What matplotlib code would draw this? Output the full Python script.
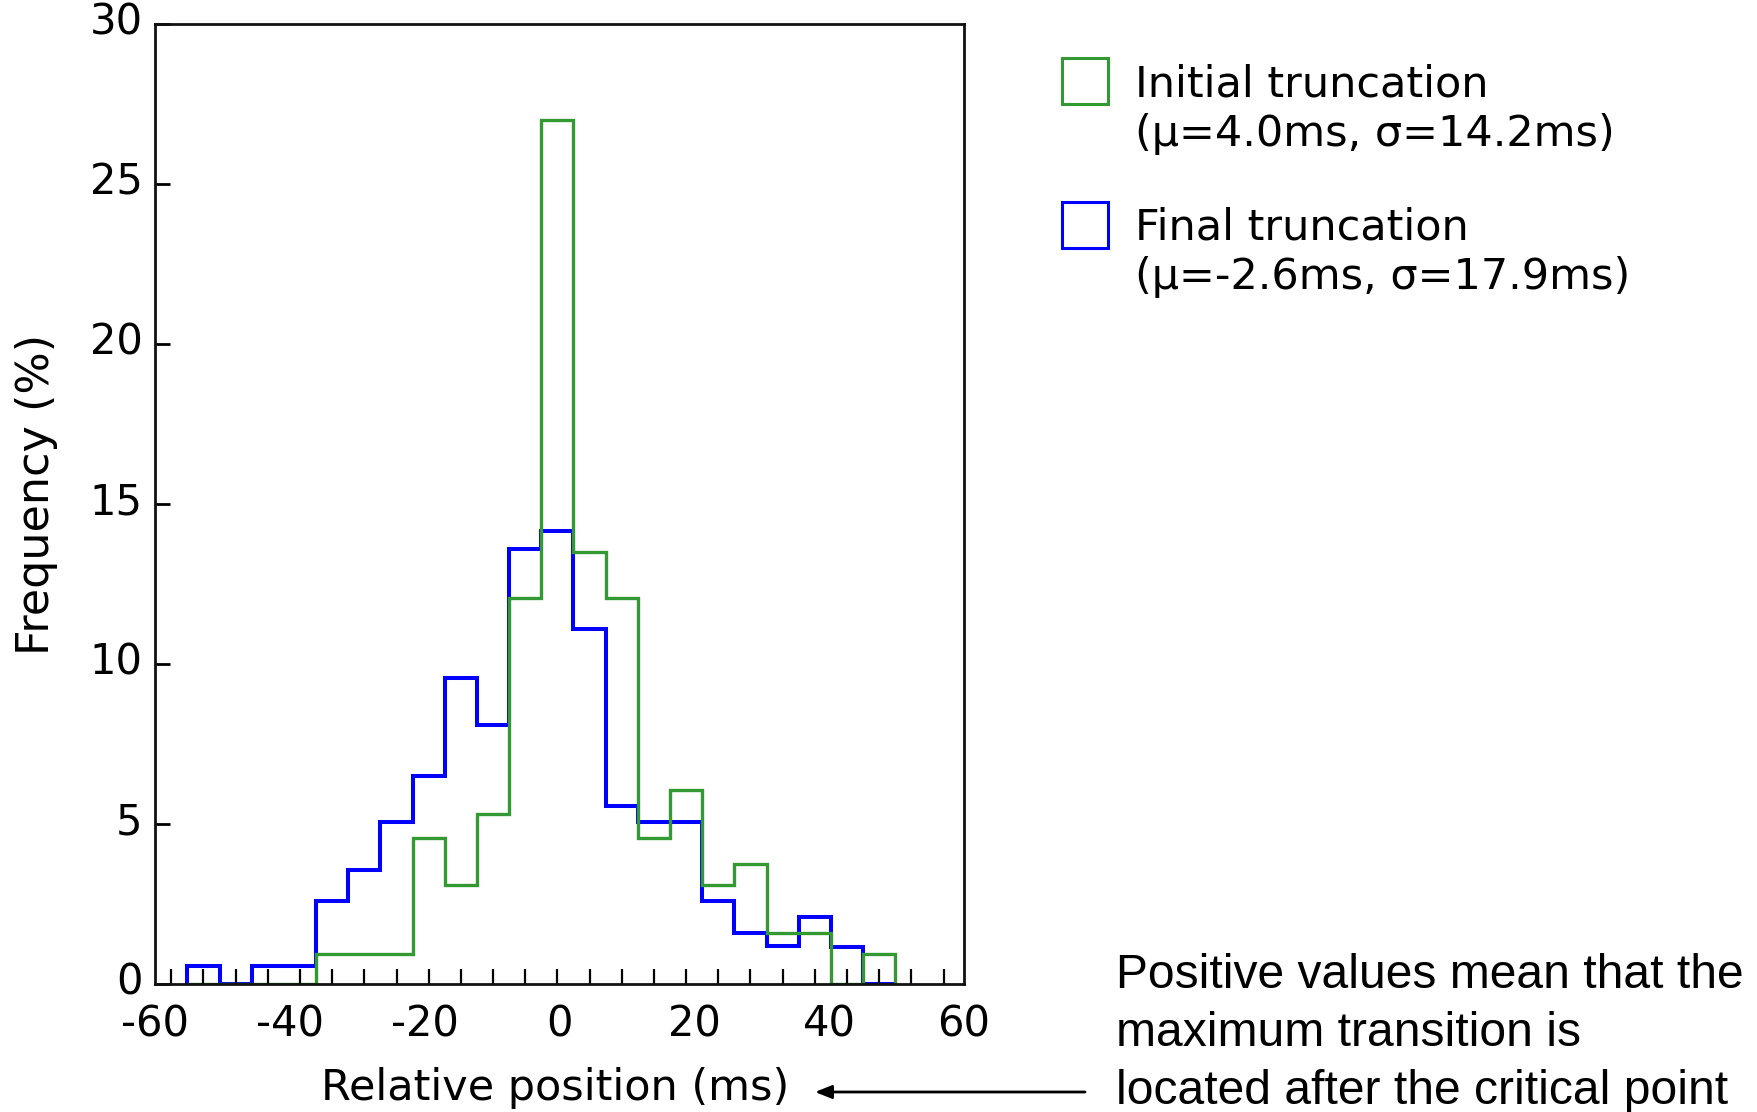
import numpy as np
import matplotlib
matplotlib.use('Agg')
import matplotlib.pyplot as plt
from matplotlib.patches import Rectangle
from matplotlib.transforms import ScaledTranslation

plt.rcParams['font.family'] = ['DejaVu Sans']
plt.rcParams['axes.unicode_minus'] = False

# histogram bins (ms) and frequencies (%)
bin_edges = np.linspace(-55.2, 49.8, 23)
final_freq = [0.55, 0, 0.55, 0.55, 2.6, 3.55, 5.05, 6.5, 9.55, 8.1, 13.6,
              14.15, 11.1, 5.55, 5.05, 5.05, 2.6, 1.6, 1.2, 2.1, 1.15, 0]
initial_freq = [0, 0, 0, 0, 0.95, 0.95, 0.95, 4.55, 3.1, 5.3, 12.05,
                27.0, 13.5, 12.05, 4.55, 6.05, 3.1, 3.75, 1.6, 1.6, 0, 0.95]

initial_label = ['Initial truncation', '(\u03bc=4.0ms, \u03c3=14.2ms)']
final_label = ['Final truncation', '(\u03bc=-2.6ms, \u03c3=17.9ms)']
note_lines = ['Positive values mean that the',
              'maximum transition is',
              'located after the critical point']

green = '#339933'
blue = '#0000ff'

fig = plt.figure(figsize=(17.57, 11.12), dpi=100)
ax = fig.add_axes([0.0882, 0.1151, 0.4605, 0.8633])

ax.stairs(final_freq, bin_edges, baseline=0, fill=False, color=blue, lw=2.9)
ax.stairs(initial_freq, bin_edges, baseline=0, fill=False, color=green, lw=2.4)

ax.set_xlim(-60, 60)
ax.set_ylim(0, 30)
ax.set_xticks(np.arange(-60, 61, 20))
w = bin_edges[1] - bin_edges[0]
ax.set_xticks(np.arange(bin_edges[0] - w / 2, 60, w), minor=True)
ax.set_yticks(np.arange(0, 31, 5))
ax.tick_params(axis='x', which='major', length=0, pad=14, labelsize=30)
ax.tick_params(axis='x', which='minor', direction='in', length=11, width=1.6)
ax.tick_params(axis='y', direction='in', length=11, width=2, pad=9, labelsize=30)
for s in ax.spines.values():
    s.set_linewidth(2)
    s.set_color('#111111')

# y tick labels sit a little above their ticks in the original
shift = ScaledTranslation(0, 4 / 72, fig.dpi_scale_trans)
for lab in ax.get_yticklabels():
    lab.set_transform(lab.get_transform() + shift)

ax.set_ylabel('Frequency (%)', fontsize=32)
ax.yaxis.set_label_coords(-0.12, 0.51)
ax.set_xlabel('Relative position (ms)', fontsize=31, va='baseline')
ax.xaxis.set_label_coords(0.4944, -0.1208)

# legend drawn by hand so the boxes line up with the first text line
fig.add_artist(Rectangle((0.6044, 0.9065), 0.0262, 0.0414, fill=False,
                         edgecolor=green, lw=2.2, transform=fig.transFigure))
fig.add_artist(Rectangle((0.6044, 0.777), 0.0262, 0.0414, fill=False,
                         edgecolor=blue, lw=2.2, transform=fig.transFigure))
fig.text(0.646, 0.9135, initial_label[0], fontsize=31, va='baseline')
fig.text(0.646, 0.8687, initial_label[1], fontsize=31, va='baseline')
fig.text(0.646, 0.7845, final_label[0], fontsize=31, va='baseline')
fig.text(0.646, 0.7401, final_label[1], fontsize=31, va='baseline')

# note at bottom right
for txt, y in zip(note_lines, [0.1115, 0.0594, 0.0072]):
    fig.text(0.635, y, txt, fontsize=34.6, family='Liberation Sans', va='baseline')

ax.annotate('', xy=(815 / 1757, 20 / 1112), xycoords='figure fraction',
            xytext=(1085 / 1757, 20 / 1112), textcoords='figure fraction',
            arrowprops=dict(arrowstyle='-|>,head_length=0.5,head_width=0.2',
                            mutation_scale=20, lw=2, color='black',
                            shrinkA=0, shrinkB=0))

fig.savefig('out.png', dpi=100)
